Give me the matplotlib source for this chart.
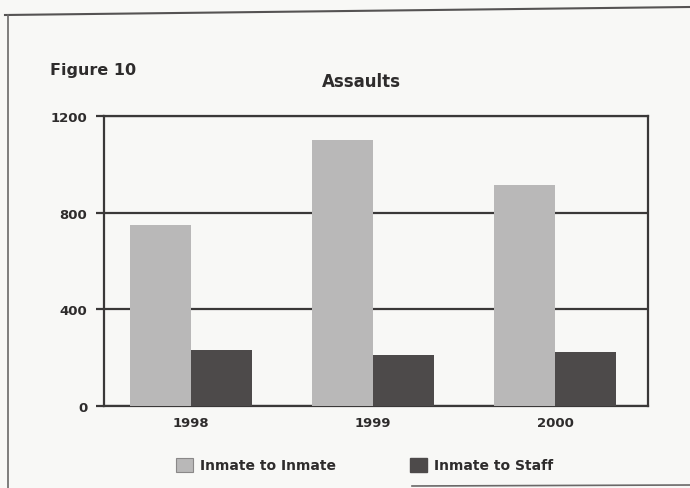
import matplotlib.pyplot as plt
from matplotlib.lines import Line2D
from matplotlib.patches import Patch
import numpy as np

# Assault counts per year
years = ['1998', '1999', '2000']
inmate_to_inmate = [750, 1100, 915]
inmate_to_staff = [230, 210, 225]
y_ticks = [0, 400, 800, 1200]
series_names = ['Inmate to Inmate', 'Inmate to Staff']

font = ['DejaVu Sans Condensed', 'DejaVu Sans']
ink = '#3a3838'
text_col = '#2e2c2c'
paper = '#f8f8f6'
light = '#b9b8b8'
dark = '#4d4a4a'

fig = plt.figure(figsize=(6.9, 4.89), dpi=100, facecolor=paper)
ax = fig.add_axes([0.1507, 0.1677, 0.7883, 0.593], facecolor=paper)

x = np.arange(len(years))
w = 0.335
ax.bar(x - w / 2, inmate_to_inmate, w, color=light, zorder=3)
ax.bar(x + w / 2, inmate_to_staff, w, color=dark, zorder=3)

ax.set_ylim(0, 1200)
ax.set_xlim(-0.48, 2.51)
ax.set_yticks(y_ticks)
ax.set_yticklabels([str(v) for v in y_ticks], family=font, weight='bold',
                   fontsize=9.5, color=text_col)
ax.set_xticks(x)
ax.set_xticklabels(years, family=font, weight='bold', fontsize=9.5,
                   color=text_col)
ax.tick_params(axis='y', length=6, width=1.6, color=ink, pad=6)
ax.tick_params(axis='x', length=0, pad=7)
ax.yaxis.grid(True, color=ink, linewidth=1.6, zorder=1)
for s in ax.spines.values():
    s.set_color(ink)
    s.set_linewidth(1.6)

fig.text(50 / 690, 1 - 70 / 489, 'Figure 10', family=font, weight='bold',
         fontsize=11.5, color=text_col, va='center', ha='left')
fig.text(361 / 690, 1 - 82 / 489, 'Assaults', family=font, weight='bold',
         fontsize=12, color=text_col, va='center', ha='center')

# One legend entry per series, placed under the axes
handles = [Patch(facecolor=light, edgecolor='#8a8888', linewidth=0.8),
           Patch(facecolor=dark, edgecolor=dark)]
anchors = [176 / 690, 410 / 690]
for h, name, ax_x in zip(handles, series_names, anchors):
    leg = fig.legend([h], [name], loc='center left',
                     bbox_to_anchor=(ax_x, 1 - 466 / 489), frameon=False,
                     borderaxespad=0, borderpad=0, handlelength=1.2,
                     handleheight=1.2, handletextpad=0.5,
                     prop={'family': font, 'weight': 'bold', 'size': 10})
    for t in leg.get_texts():
        t.set_color(text_col)

# Page border
fig.add_artist(Line2D([5 / 690, 1.0], [1 - 16 / 489, 1 - 8 / 489],
                      transform=fig.transFigure, color='#555353', linewidth=1.5))
fig.add_artist(Line2D([8 / 690, 8 / 690], [1 - 16 / 489, 0.0],
                      transform=fig.transFigure, color='#6a6868', linewidth=1.2))
fig.add_artist(Line2D([412 / 690, 1.0], [1 - 487 / 489, 1 - 486 / 489],
                      transform=fig.transFigure, color='#6a6868', linewidth=1.2))

fig.savefig('out.png', dpi=100, facecolor=paper)
